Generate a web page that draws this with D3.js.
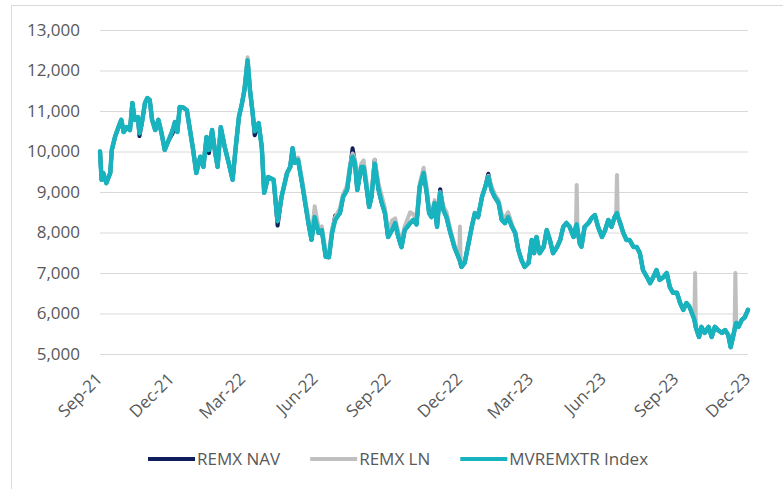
<!DOCTYPE html>
<html>
<head>
<meta charset="utf-8">
<script src="https://cdn.jsdelivr.net/npm/d3@7/dist/d3.min.js"></script>
<style>
  html, body { margin: 0; padding: 0; background: #ffffff; }
  svg { display: block; }
  text { font-family: "Open Sans", "Noto Sans", sans-serif; fill: #595959; }
</style>
</head>
<body>
<svg id="chart" width="783" height="489"></svg>
<script>
// ---------------- DATA ----------------
const seriesNames = ["REMX NAV", "REMX LN", "MVREMXTR Index"];
const yTickValues = [5000, 6000, 7000, 8000, 9000, 10000, 11000, 12000, 13000];
const xTickLabels = ["2021-09-01","2021-12-01","2022-03-01","2022-06-01","2022-09-01",
                     "2022-12-01","2023-03-01","2023-06-01","2023-09-01","2023-12-01"];

const dates = [
  "2021-09-01","2021-09-03","2021-09-05","2021-09-09","2021-09-14","2021-09-16","2021-09-20","2021-09-24","2021-09-28",
  "2021-10-01","2021-10-05","2021-10-09","2021-10-12","2021-10-15","2021-10-19","2021-10-21","2021-10-24","2021-10-28","2021-10-31",
  "2021-11-03","2021-11-06","2021-11-10","2021-11-14","2021-11-18","2021-11-22","2021-11-27",
  "2021-12-02","2021-12-05","2021-12-08","2021-12-11","2021-12-16","2021-12-20","2021-12-24","2021-12-28",
  "2022-01-01","2022-01-06","2022-01-10","2022-01-14","2022-01-17","2022-01-21","2022-01-25","2022-01-28",
  "2022-02-01","2022-02-06","2022-02-11","2022-02-16","2022-02-20","2022-02-24","2022-02-28",
  "2022-03-03","2022-03-07","2022-03-10","2022-03-13","2022-03-16","2022-03-21","2022-03-25","2022-03-28",
  "2022-04-02","2022-04-09","2022-04-14","2022-04-19","2022-04-26","2022-04-30",
  "2022-05-03","2022-05-06","2022-05-10","2022-05-15","2022-05-19","2022-05-23","2022-05-27","2022-05-31",
  "2022-06-05","2022-06-09","2022-06-14","2022-06-18","2022-06-22","2022-06-26",
  "2022-07-02","2022-07-06","2022-07-11","2022-07-15","2022-07-18","2022-07-21","2022-07-24","2022-07-29",
  "2022-08-01","2022-08-04","2022-08-08","2022-08-11","2022-08-15","2022-08-20","2022-08-24","2022-08-28",
  "2022-09-01","2022-09-06","2022-09-10","2022-09-14","2022-09-18","2022-09-22","2022-09-29",
  "2022-10-03","2022-10-07","2022-10-11","2022-10-16","2022-10-20","2022-10-23","2022-10-26","2022-10-30",
  "2022-11-02","2022-11-06","2022-11-10","2022-11-14","2022-11-18","2022-11-24","2022-11-29","2022-11-30",
  "2022-12-01","2022-12-02","2022-12-03","2022-12-07","2022-12-12","2022-12-16","2022-12-20","2022-12-24","2022-12-29",
  "2023-01-02","2023-01-06","2023-01-10","2023-01-14","2023-01-19","2023-01-23","2023-01-27","2023-01-31",
  "2023-02-05","2023-02-09","2023-02-13","2023-02-17","2023-02-21","2023-02-26",
  "2023-03-02","2023-03-05","2023-03-08","2023-03-12","2023-03-17","2023-03-21","2023-03-25","2023-03-29",
  "2023-04-03","2023-04-07","2023-04-11","2023-04-15","2023-04-19","2023-04-24","2023-04-27","2023-04-28","2023-04-29",
  "2023-05-02","2023-05-04","2023-05-08","2023-05-13","2023-05-17","2023-05-21","2023-05-25","2023-05-30",
  "2023-06-03","2023-06-07","2023-06-11","2023-06-15","2023-06-17","2023-06-18","2023-06-19","2023-06-22","2023-06-26","2023-06-30",
  "2023-07-04","2023-07-09","2023-07-13","2023-07-17","2023-07-21","2023-07-26","2023-07-30",
  "2023-08-03","2023-08-07","2023-08-11","2023-08-16","2023-08-20","2023-08-24","2023-08-28",
  "2023-09-02","2023-09-06","2023-09-10","2023-09-14","2023-09-18","2023-09-23","2023-09-24","2023-09-25","2023-09-26","2023-09-27","2023-09-30",
  "2023-10-03","2023-10-07","2023-10-12","2023-10-16","2023-10-20","2023-10-24","2023-10-29",
  "2023-11-02","2023-11-06","2023-11-09","2023-11-12","2023-11-14","2023-11-15","2023-11-16","2023-11-19","2023-11-23","2023-11-27",
  "2023-12-01"
];

const indexValues = [
  10000,9300,9470,9220,9470,10040,10360,10580,10780,
  10480,10600,10530,11200,10780,10850,10450,10700,11200,11320,
  11270,10780,10530,10780,10450,10040,10280,
  10530,10730,10480,11100,11080,11020,10530,10040,
  9470,9870,9620,10360,10040,10530,9960,9620,
  10600,10110,9720,9300,10110,10850,11200,
  11520,12250,11520,11020,10500,10700,10100,8980,
  9370,9300,8280,8880,9470,9620,
  10080,9720,9790,9220,8730,8240,7820,8380,
  7990,8060,7400,7390,7990,8310,
  8480,8880,9050,9620,9870,9720,9050,9620,
  9620,9220,8630,8880,9700,9050,8730,8480,
  7890,8060,8230,7890,7640,8060,8230,
  8310,8200,9120,9470,8975,8480,8380,8730,
  8140,8975,8560,8380,8060,7640,7400,7350,
  7300,7220,7150,7250,7740,8140,8480,8380,8880,
  9120,9370,9050,8880,8730,8310,8230,8380,
  8140,7990,7570,7320,7150,7250,
  7815,7490,7890,7490,7640,8060,7815,7490,
  7640,7815,8140,8235,8140,7890,8150,8200,8050,
  7720,7650,8140,8235,8360,8430,8140,7890,
  8060,8310,8140,8380,8450,8480,8400,8235,7990,7815,
  7815,7640,7640,7490,7070,6900,6750,
  6900,7070,6830,6900,7000,6650,6510,
  6510,6260,6090,6260,6160,5910,5850,5750,5650,5590,5420,
  5670,5520,5670,5420,5670,5590,5520,
  5590,5470,5170,5420,5600,5700,5765,5670,5840,5910,
  6090
];

const lnValues = [
  10000,9300,9470,9220,9470,10040,10360,10580,10780,
  10480,10600,10530,11200,10780,10850,10450,10700,11200,11320,
  11270,10780,10530,10780,10450,10040,10280,
  10530,10730,10480,11100,11080,11020,10530,10040,
  9470,9870,9620,10360,10040,10530,9960,9620,
  10600,10110,9720,9300,10110,10850,11200,
  11520,12330,11520,11020,10500,10700,10100,8980,
  9370,9300,8280,8880,9470,9620,
  10080,9780,9850,9300,8800,8350,7900,8650,
  8100,8150,7500,7450,8100,8380,
  8600,8950,9150,9700,9950,9800,9200,9700,
  9780,9350,8750,8950,9800,9200,8900,8600,
  8000,8300,8350,8000,7800,8150,8500,
  8450,8300,9200,9600,9100,8550,8450,8800,
  8250,9000,8650,8500,8150,7700,7450,7350,
  8150,7220,7200,7250,7740,8140,8480,8380,8880,
  9120,9400,9150,8950,8800,8450,8350,8500,
  8200,7990,7570,7320,7150,7250,
  7815,7490,7890,7490,7640,8060,7815,7490,
  7640,7815,8140,8235,8140,7890,8150,9170,8050,
  7720,7650,8140,8235,8360,8430,8140,7890,
  8060,8310,8140,8380,8450,9420,8400,8235,7990,7815,
  7815,7640,7640,7490,7070,6900,6750,
  6900,7070,6830,6900,7000,6650,6510,
  6510,6260,6090,6260,6160,5910,5850,7000,5650,5590,5420,
  5670,5520,5670,5420,5670,5590,5520,
  5590,5470,5170,5420,5600,7000,5765,5670,5840,5910,
  6090
];

const navValues = [
  10000,9300,9470,9220,9470,10040,10360,10580,10780,
  10480,10600,10530,11200,10780,10850,10380,10700,11200,11320,
  11270,10780,10530,10780,10450,10040,10280,
  10450,10730,10480,11100,11080,11020,10530,10040,
  9470,9870,9620,10360,9960,10530,9960,9620,
  10600,10110,9720,9300,10110,10850,11200,
  11520,12250,11520,11020,10400,10700,10100,8980,
  9370,9300,8170,8880,9470,9620,
  10080,9720,9790,9220,8730,8240,7820,8380,
  7990,8060,7400,7390,7990,8420,
  8480,8880,9050,9620,10080,9720,9050,9620,
  9620,9220,8630,8880,9790,9050,8730,8480,
  7890,8060,8230,7890,7640,8060,8230,
  8310,8200,9120,9470,8975,8480,8380,8730,
  8140,9070,8560,8380,8060,7640,7400,7350,
  7300,7220,7150,7250,7740,8140,8480,8380,8880,
  9120,9450,9050,8880,8730,8310,8230,8470,
  8140,7990,7570,7320,7150,7250,
  7815,7490,7890,7490,7640,8060,7815,7490,
  7640,7815,8140,8235,8140,7890,8150,8200,8050,
  7720,7650,8140,8235,8360,8430,8140,7890,
  8060,8310,8140,8380,8450,8480,8400,8235,7990,7815,
  7815,7640,7640,7490,7070,6900,6750,
  6900,7070,6830,6900,7000,6650,6510,
  6510,6260,6090,6260,6160,5910,5850,5750,5650,5590,5420,
  5670,5520,5670,5420,5670,5590,5520,
  5590,5470,5170,5420,5600,5700,5765,5670,5840,5910,
  6090
];

// ---------------- LAYOUT / STYLE ----------------
const colors = ["#0f1f5c", "#bfbfbf", "#17b3bf"];
const widths = [4, 4, 4.5];
const parse = d3.timeParse("%Y-%m-%d");
const svg = d3.select("#chart");

// outer chart border (top & left visible)
svg.append("line").attr("x1", 11.5).attr("x2", 783).attr("y1", 5.5).attr("y2", 5.5)
   .attr("stroke", "#d9d9d9").attr("stroke-width", 1);
svg.append("line").attr("x1", 11.5).attr("x2", 11.5).attr("y1", 5.5).attr("y2", 489)
   .attr("stroke", "#d9d9d9").attr("stroke-width", 1);

const x = d3.scaleTime()
  .domain([parse(xTickLabels[0]), parse(xTickLabels[xTickLabels.length - 1])])
  .range([100, 748]);
const y = d3.scaleLinear().domain([5000, 13000]).range([354, 30]);

// y axis with gridlines
const yAxis = d3.axisLeft(y).tickValues(yTickValues).tickFormat(d3.format(","))
  .tickSize(-(748 - 100)).tickPadding(20);
const gy = svg.append("g").attr("transform", "translate(100,0)").call(yAxis);
gy.select(".domain").remove();
gy.selectAll(".tick line").attr("stroke", "#d9d9d9").attr("stroke-width", 1);
gy.selectAll(".tick text").attr("font-size", 17).attr("fill", "#595959")
  .style("font-family", '"Open Sans", sans-serif');

// x axis labels
const xAxis = d3.axisBottom(x).tickValues(xTickLabels.map(parse))
  .tickFormat(d3.timeFormat("%b-%y")).tickSize(0);
const gx = svg.append("g").attr("transform", "translate(0,354)").call(xAxis);
gx.select(".domain").remove();
gx.selectAll(".tick text")
  .attr("font-size", 17).attr("fill", "#595959")
  .style("font-family", '"Open Sans", sans-serif')
  .attr("text-anchor", "end")
  .attr("dy", null).attr("y", 0)
  .attr("transform", "translate(3,26) rotate(-45)");

// series lines
const seriesValues = [navValues, lnValues, indexValues];
const line = d3.line().x(d => x(d.date)).y(d => y(d.value));
seriesValues.forEach((vals, i) => {
  const data = dates.map((dt, k) => ({ date: parse(dt), value: vals[k] }));
  svg.append("path").datum(data)
    .attr("d", line)
    .attr("fill", "none")
    .attr("stroke", colors[i])
    .attr("stroke-width", widths[i])
    .attr("stroke-linejoin", "round")
    .attr("stroke-linecap", "round");
});

// legend
const legend = svg.append("g");
let lx = 148;
const ly = 459;
seriesNames.forEach((name, i) => {
  legend.append("line").attr("x1", lx).attr("x2", lx + 47).attr("y1", ly).attr("y2", ly)
    .attr("stroke", colors[i]).attr("stroke-width", 4);
  const t = legend.append("text").attr("x", lx + 49).attr("y", ly).attr("dy", "0.35em")
    .attr("font-size", 17).text(name);
  lx = lx + 49 + t.node().getComputedTextLength() + 30;
});
</script>
</body>
</html>
